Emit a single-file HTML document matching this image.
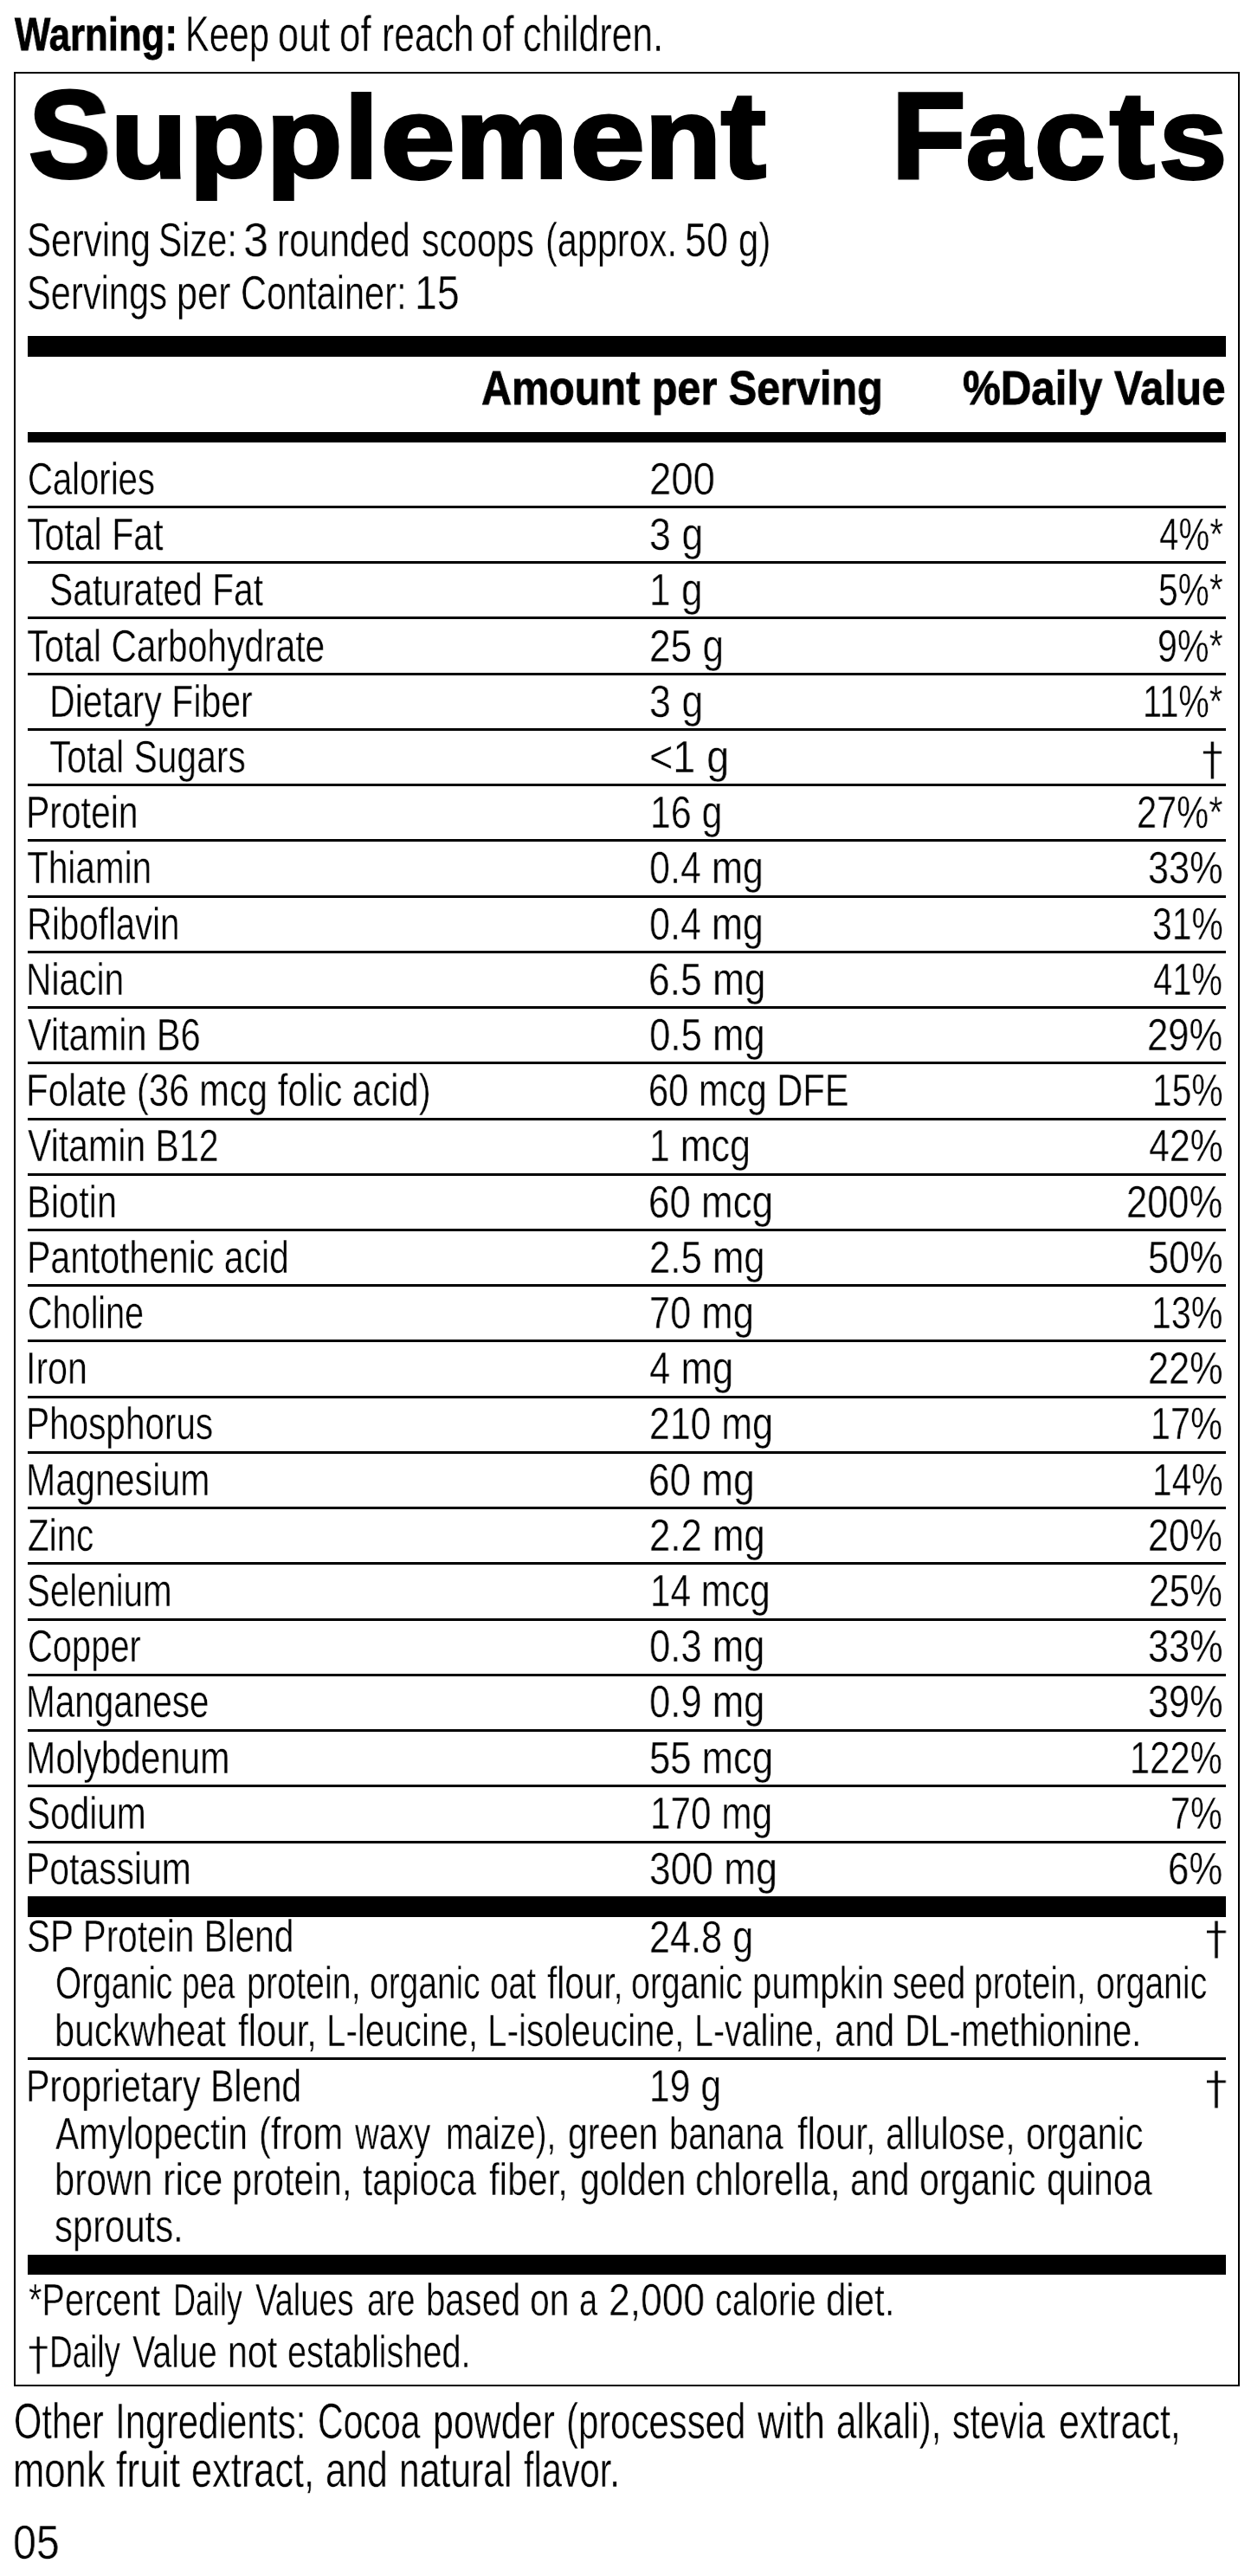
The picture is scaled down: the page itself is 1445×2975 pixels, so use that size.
<!DOCTYPE html>
<html><head><meta charset="utf-8"><title>Supplement Facts</title>
<style>
html,body{margin:0;padding:0;background:#fff}
body{width:1445px;height:2975px;position:relative;overflow:hidden;font-family:"Liberation Sans", Arial, sans-serif;color:#000}
.t{position:absolute;white-space:nowrap;transform-origin:0 0;will-change:transform}
.g{position:absolute;white-space:nowrap;font-size:0;line-height:0}
.c{display:inline-block;position:relative;vertical-align:top;white-space:pre;transform-origin:0 0;will-change:transform}
.r{position:absolute;background:#000}
</style></head><body>
<div style="position:absolute;left:16px;top:83px;width:1416px;height:2673px;border:2px solid #000;box-sizing:border-box"></div>
<div class="r" style="left:32px;top:387.5px;width:1384px;height:24px"></div>
<div class="r" style="left:32px;top:499px;width:1384px;height:12px"></div>
<div class="r" style="left:32px;top:584.0px;width:1384px;height:3px"></div>
<div class="r" style="left:32px;top:648.23px;width:1384px;height:3px"></div>
<div class="r" style="left:32px;top:712.46px;width:1384px;height:3px"></div>
<div class="r" style="left:32px;top:776.69px;width:1384px;height:3px"></div>
<div class="r" style="left:32px;top:840.92px;width:1384px;height:3px"></div>
<div class="r" style="left:32px;top:905.15px;width:1384px;height:3px"></div>
<div class="r" style="left:32px;top:969.38px;width:1384px;height:3px"></div>
<div class="r" style="left:32px;top:1033.61px;width:1384px;height:3px"></div>
<div class="r" style="left:32px;top:1097.84px;width:1384px;height:3px"></div>
<div class="r" style="left:32px;top:1162.07px;width:1384px;height:3px"></div>
<div class="r" style="left:32px;top:1226.3px;width:1384px;height:3px"></div>
<div class="r" style="left:32px;top:1290.53px;width:1384px;height:3px"></div>
<div class="r" style="left:32px;top:1354.76px;width:1384px;height:3px"></div>
<div class="r" style="left:32px;top:1418.99px;width:1384px;height:3px"></div>
<div class="r" style="left:32px;top:1483.22px;width:1384px;height:3px"></div>
<div class="r" style="left:32px;top:1547.45px;width:1384px;height:3px"></div>
<div class="r" style="left:32px;top:1611.68px;width:1384px;height:3px"></div>
<div class="r" style="left:32px;top:1675.91px;width:1384px;height:3px"></div>
<div class="r" style="left:32px;top:1740.14px;width:1384px;height:3px"></div>
<div class="r" style="left:32px;top:1804.37px;width:1384px;height:3px"></div>
<div class="r" style="left:32px;top:1868.6px;width:1384px;height:3px"></div>
<div class="r" style="left:32px;top:1932.83px;width:1384px;height:3px"></div>
<div class="r" style="left:32px;top:1997.06px;width:1384px;height:3px"></div>
<div class="r" style="left:32px;top:2061.29px;width:1384px;height:3px"></div>
<div class="r" style="left:32px;top:2125.52px;width:1384px;height:3px"></div>
<div class="r" style="left:32px;top:2190.3px;width:1384px;height:23.5px"></div>
<div class="r" style="left:32px;top:2376.4px;width:1384px;height:3px"></div>
<div class="r" style="left:32px;top:2603.6px;width:1384px;height:23.6px"></div>
<div class="g" style="left:16.80px;top:11.93px"><span class="c" style="width:197.53px;height:54.20px;top:0.27px;font-size:54.20px;line-height:54.20px;font-weight:bold;-webkit-text-stroke:0.80px #000;transform:scaleX(0.8075);">Warning: </span><span class="c" style="width:106.87px;height:56.47px;top:0.00px;font-size:56.47px;line-height:56.47px;-webkit-text-stroke:0.45px #fff;transform:scaleX(0.7347);">Keep </span><span class="c" style="width:70.68px;height:56.47px;top:0.00px;font-size:56.47px;line-height:56.47px;-webkit-text-stroke:0.45px #fff;transform:scaleX(0.7667);">out </span><span class="c" style="width:48.91px;height:56.47px;top:0.00px;font-size:56.47px;line-height:56.47px;-webkit-text-stroke:0.45px #fff;transform:scaleX(0.7750);">of </span><span class="c" style="width:115.53px;height:56.47px;top:0.00px;font-size:56.47px;line-height:56.47px;-webkit-text-stroke:0.45px #fff;transform:scaleX(0.7549);">reach </span><span class="c" style="width:47.71px;height:56.47px;top:0.00px;font-size:56.47px;line-height:56.47px;-webkit-text-stroke:0.45px #fff;transform:scaleX(0.7955);">of </span><span class="c" style="width:10.00px;height:56.47px;top:0.00px;font-size:56.47px;line-height:56.47px;-webkit-text-stroke:0.45px #fff;transform:scaleX(0.7595);">children.</span></div>
<div class="g" style="left:33.11px;top:85.45px"><span class="c" style="width:95.18px;height:142.96px;top:0.00px;font-size:142.96px;line-height:142.96px;font-weight:bold;-webkit-text-stroke:4.00px #000;transform:scaleX(0.9933);">S</span><span class="c" style="width:90.22px;height:132.59px;top:7.75px;font-size:132.59px;line-height:132.59px;font-weight:bold;-webkit-text-stroke:4.00px #000;transform:scaleX(1.0838);">u</span><span class="c" style="width:89.71px;height:128.27px;top:9.15px;font-size:128.27px;line-height:128.27px;font-weight:bold;-webkit-text-stroke:4.00px #000;transform:scaleX(1.1130);">p</span><span class="c" style="width:89.97px;height:128.27px;top:9.15px;font-size:128.27px;line-height:128.27px;font-weight:bold;-webkit-text-stroke:4.00px #000;transform:scaleX(1.1116);">p</span><span class="c" style="width:41.75px;height:133.84px;top:6.20px;font-size:133.84px;line-height:133.84px;font-weight:bold;-webkit-text-stroke:4.00px #000;transform:scaleX(1.0435);">l</span><span class="c" style="width:86.04px;height:133.09px;top:8.15px;font-size:133.09px;line-height:133.09px;font-weight:bold;-webkit-text-stroke:4.00px #000;transform:scaleX(1.1529);">e</span><span class="c" style="width:132.55px;height:132.41px;top:7.30px;font-size:132.41px;line-height:132.41px;font-weight:bold;-webkit-text-stroke:4.00px #000;transform:scaleX(1.1029);">m</span><span class="c" style="width:86.45px;height:133.09px;top:8.15px;font-size:133.09px;line-height:133.09px;font-weight:bold;-webkit-text-stroke:4.00px #000;transform:scaleX(1.1559);">e</span><span class="c" style="width:88.12px;height:132.41px;top:7.30px;font-size:132.41px;line-height:132.41px;font-weight:bold;-webkit-text-stroke:4.00px #000;transform:scaleX(1.0882);">n</span><span class="c" style="width:196.98px;height:141.52px;top:0.85px;font-size:141.52px;line-height:141.52px;font-weight:bold;-webkit-text-stroke:4.00px #000;transform:scaleX(1.0957);">t </span><span class="c" style="width:85.61px;height:141.30px;top:1.20px;font-size:141.30px;line-height:141.30px;font-weight:bold;-webkit-text-stroke:4.00px #000;transform:scaleX(0.9882);">F</span><span class="c" style="width:79.60px;height:133.27px;top:7.20px;font-size:133.27px;line-height:133.27px;font-weight:bold;-webkit-text-stroke:4.00px #000;transform:scaleX(1.0027);">a</span><span class="c" style="width:87.20px;height:133.27px;top:7.20px;font-size:133.27px;line-height:133.27px;font-weight:bold;-webkit-text-stroke:4.00px #000;transform:scaleX(1.1014);">c</span><span class="c" style="width:56.19px;height:141.36px;top:0.90px;font-size:141.36px;line-height:141.36px;font-weight:bold;-webkit-text-stroke:4.00px #000;transform:scaleX(1.0957);">t</span><span class="c" style="width:10.00px;height:133.09px;top:8.45px;font-size:133.09px;line-height:133.09px;font-weight:bold;-webkit-text-stroke:4.00px #000;transform:scaleX(1.0544);">s</span></div>
<div class="g" style="left:30.64px;top:248.83px"><span class="c" style="width:152.27px;height:56.03px;top:0.00px;font-size:56.03px;line-height:56.03px;-webkit-text-stroke:0.45px #fff;transform:scaleX(0.7530);">Serving </span><span class="c" style="width:98.28px;height:56.03px;top:0.00px;font-size:56.03px;line-height:56.03px;-webkit-text-stroke:0.45px #fff;transform:scaleX(0.7284);">Size: </span><span class="c" style="width:38.61px;height:56.03px;top:0.00px;font-size:56.03px;line-height:56.03px;-webkit-text-stroke:0.45px #fff;transform:scaleX(0.9360);">3 </span><span class="c" style="width:167.53px;height:56.03px;top:0.00px;font-size:56.03px;line-height:56.03px;-webkit-text-stroke:0.45px #fff;transform:scaleX(0.7485);">rounded </span><span class="c" style="width:143.11px;height:56.03px;top:0.00px;font-size:56.03px;line-height:56.03px;-webkit-text-stroke:0.45px #fff;transform:scaleX(0.7318);">scoops </span><span class="c" style="width:160.95px;height:56.03px;top:0.00px;font-size:56.03px;line-height:56.03px;-webkit-text-stroke:0.45px #fff;transform:scaleX(0.7393);">(approx. </span><span class="c" style="width:62.07px;height:56.03px;top:0.00px;font-size:56.03px;line-height:56.03px;-webkit-text-stroke:0.45px #fff;transform:scaleX(0.8018);">50 </span><span class="c" style="width:10.00px;height:56.03px;top:0.00px;font-size:56.03px;line-height:56.03px;-webkit-text-stroke:0.45px #fff;transform:scaleX(0.7465);">g)</span></div>
<div class="g" style="left:30.67px;top:310.43px"><span class="c" style="width:172.95px;height:56.03px;top:0.00px;font-size:56.03px;line-height:56.03px;-webkit-text-stroke:0.45px #fff;transform:scaleX(0.7432);">Servings </span><span class="c" style="width:74.56px;height:56.03px;top:0.00px;font-size:56.03px;line-height:56.03px;-webkit-text-stroke:0.45px #fff;transform:scaleX(0.7711);">per </span><span class="c" style="width:201.09px;height:56.03px;top:0.00px;font-size:56.03px;line-height:56.03px;-webkit-text-stroke:0.45px #fff;transform:scaleX(0.7408);">Container: </span><span class="c" style="width:10.00px;height:56.03px;top:0.00px;font-size:56.03px;line-height:56.03px;-webkit-text-stroke:0.45px #fff;transform:scaleX(0.8273);">15</span></div>
<div class="t" style="left:556.34px;top:420.30px;font-size:56.40px;line-height:56.40px;font-weight:bold;-webkit-text-stroke:0.80px #000;transform:scaleX(0.8606);">Amount per Serving</div>
<div class="t" style="left:1112.43px;top:420.30px;font-size:56.40px;line-height:56.40px;font-weight:bold;-webkit-text-stroke:0.80px #000;transform:scaleX(0.8725);">%Daily Value</div>
<div class="t" style="left:31.52px;top:527.02px;font-size:52.69px;line-height:52.69px;-webkit-text-stroke:0.45px #fff;transform:scaleX(0.7601);">Calories</div>
<div class="t" style="left:749.81px;top:527.02px;font-size:52.69px;line-height:52.69px;-webkit-text-stroke:0.45px #fff;transform:scaleX(0.8646);">200</div>
<div class="t" style="left:31.24px;top:591.23px;font-size:52.69px;line-height:52.69px;-webkit-text-stroke:0.45px #fff;transform:scaleX(0.7794);">Total Fat</div>
<div class="t" style="left:749.55px;top:591.23px;font-size:52.69px;line-height:52.69px;-webkit-text-stroke:0.45px #fff;transform:scaleX(0.8500);">3 g</div>
<div class="t" style="left:1339.07px;top:591.23px;font-size:52.69px;line-height:52.69px;-webkit-text-stroke:0.45px #fff;transform:scaleX(0.7645);">4%*</div>
<div class="t" style="left:56.88px;top:655.42px;font-size:52.69px;line-height:52.69px;-webkit-text-stroke:0.45px #fff;transform:scaleX(0.7740);">Saturated Fat</div>
<div class="t" style="left:750.24px;top:655.42px;font-size:52.69px;line-height:52.69px;-webkit-text-stroke:0.45px #fff;transform:scaleX(0.8400);">1 g</div>
<div class="t" style="left:1338.28px;top:655.42px;font-size:52.69px;line-height:52.69px;-webkit-text-stroke:0.45px #fff;transform:scaleX(0.7728);">5%*</div>
<div class="t" style="left:31.25px;top:719.62px;font-size:52.69px;line-height:52.69px;-webkit-text-stroke:0.45px #fff;transform:scaleX(0.7732);">Total Carbohydrate</div>
<div class="t" style="left:749.88px;top:719.62px;font-size:52.69px;line-height:52.69px;-webkit-text-stroke:0.45px #fff;transform:scaleX(0.8396);">25 g</div>
<div class="t" style="left:1337.35px;top:719.62px;font-size:52.69px;line-height:52.69px;-webkit-text-stroke:0.45px #fff;transform:scaleX(0.7826);">9%*</div>
<div class="t" style="left:56.71px;top:783.82px;font-size:52.69px;line-height:52.69px;-webkit-text-stroke:0.45px #fff;transform:scaleX(0.7783);">Dietary Fiber</div>
<div class="t" style="left:749.55px;top:783.82px;font-size:52.69px;line-height:52.69px;-webkit-text-stroke:0.45px #fff;transform:scaleX(0.8500);">3 g</div>
<div class="t" style="left:1320.28px;top:783.82px;font-size:52.69px;line-height:52.69px;-webkit-text-stroke:0.45px #fff;transform:scaleX(0.7556);">11%*</div>
<div class="t" style="left:57.45px;top:848.02px;font-size:52.69px;line-height:52.69px;-webkit-text-stroke:0.45px #fff;transform:scaleX(0.7744);">Total Sugars</div>
<div class="t" style="left:749.74px;top:848.02px;font-size:52.69px;line-height:52.69px;-webkit-text-stroke:0.45px #fff;transform:scaleX(0.8866);">&lt;1 g</div>
<div class="t" style="left:1388.37px;top:849.60px;font-size:53.85px;line-height:53.85px;font-family:'DejaVu Sans', 'Liberation Sans', sans-serif;-webkit-text-stroke:0.90px #fff;transform:scaleX(0.9174);">†</div>
<div class="t" style="left:29.52px;top:912.23px;font-size:52.69px;line-height:52.69px;-webkit-text-stroke:0.45px #fff;transform:scaleX(0.7753);">Protein</div>
<div class="t" style="left:750.75px;top:912.23px;font-size:52.69px;line-height:52.69px;-webkit-text-stroke:0.45px #fff;transform:scaleX(0.8126);">16 g</div>
<div class="t" style="left:1313.03px;top:912.23px;font-size:52.69px;line-height:52.69px;-webkit-text-stroke:0.45px #fff;transform:scaleX(0.7893);">27%*</div>
<div class="t" style="left:31.26px;top:976.43px;font-size:52.69px;line-height:52.69px;-webkit-text-stroke:0.45px #fff;transform:scaleX(0.7692);">Thiamin</div>
<div class="t" style="left:750.06px;top:976.43px;font-size:52.69px;line-height:52.69px;-webkit-text-stroke:0.45px #fff;transform:scaleX(0.8181);">0.4 mg</div>
<div class="t" style="left:1326.03px;top:976.43px;font-size:52.69px;line-height:52.69px;-webkit-text-stroke:0.45px #fff;transform:scaleX(0.8220);">33%</div>
<div class="t" style="left:30.59px;top:1040.62px;font-size:52.69px;line-height:52.69px;-webkit-text-stroke:0.45px #fff;transform:scaleX(0.7628);">Riboflavin</div>
<div class="t" style="left:750.06px;top:1040.62px;font-size:52.69px;line-height:52.69px;-webkit-text-stroke:0.45px #fff;transform:scaleX(0.8181);">0.4 mg</div>
<div class="t" style="left:1330.67px;top:1040.62px;font-size:52.69px;line-height:52.69px;-webkit-text-stroke:0.45px #fff;transform:scaleX(0.7770);">31%</div>
<div class="t" style="left:30.13px;top:1104.82px;font-size:52.69px;line-height:52.69px;-webkit-text-stroke:0.45px #fff;transform:scaleX(0.7732);">Niacin</div>
<div class="t" style="left:748.78px;top:1104.82px;font-size:52.69px;line-height:52.69px;-webkit-text-stroke:0.45px #fff;transform:scaleX(0.8409);">6.5 mg</div>
<div class="t" style="left:1332.48px;top:1104.82px;font-size:52.69px;line-height:52.69px;-webkit-text-stroke:0.45px #fff;transform:scaleX(0.7594);">41%</div>
<div class="t" style="left:32.41px;top:1169.02px;font-size:52.69px;line-height:52.69px;-webkit-text-stroke:0.45px #fff;transform:scaleX(0.7864);">Vitamin B6</div>
<div class="t" style="left:749.84px;top:1169.02px;font-size:52.69px;line-height:52.69px;-webkit-text-stroke:0.45px #fff;transform:scaleX(0.8297);">0.5 mg</div>
<div class="t" style="left:1325.42px;top:1169.02px;font-size:52.69px;line-height:52.69px;-webkit-text-stroke:0.45px #fff;transform:scaleX(0.8280);">29%</div>
<div class="t" style="left:30.03px;top:1233.22px;font-size:52.69px;line-height:52.69px;-webkit-text-stroke:0.45px #fff;transform:scaleX(0.7945);">Folate (36 mcg folic acid)</div>
<div class="t" style="left:749.03px;top:1233.22px;font-size:52.69px;line-height:52.69px;-webkit-text-stroke:0.45px #fff;transform:scaleX(0.7906);">60 mcg DFE</div>
<div class="t" style="left:1330.90px;top:1233.22px;font-size:52.69px;line-height:52.69px;-webkit-text-stroke:0.45px #fff;transform:scaleX(0.7747);">15%</div>
<div class="t" style="left:32.42px;top:1297.42px;font-size:52.69px;line-height:52.69px;-webkit-text-stroke:0.45px #fff;transform:scaleX(0.7792);">Vitamin B12</div>
<div class="t" style="left:750.24px;top:1297.42px;font-size:52.69px;line-height:52.69px;-webkit-text-stroke:0.45px #fff;transform:scaleX(0.8147);">1 mcg</div>
<div class="t" style="left:1326.87px;top:1297.42px;font-size:52.69px;line-height:52.69px;-webkit-text-stroke:0.45px #fff;transform:scaleX(0.8139);">42%</div>
<div class="t" style="left:30.85px;top:1361.62px;font-size:52.69px;line-height:52.69px;-webkit-text-stroke:0.45px #fff;transform:scaleX(0.7894);">Biotin</div>
<div class="t" style="left:749.00px;top:1361.62px;font-size:52.69px;line-height:52.69px;-webkit-text-stroke:0.45px #fff;transform:scaleX(0.8331);">60 mcg</div>
<div class="t" style="left:1300.72px;top:1361.62px;font-size:52.69px;line-height:52.69px;-webkit-text-stroke:0.45px #fff;transform:scaleX(0.8254);">200%</div>
<div class="t" style="left:30.91px;top:1425.82px;font-size:52.69px;line-height:52.69px;-webkit-text-stroke:0.45px #fff;transform:scaleX(0.7774);">Pantothenic acid</div>
<div class="t" style="left:749.91px;top:1425.82px;font-size:52.69px;line-height:52.69px;-webkit-text-stroke:0.45px #fff;transform:scaleX(0.8292);">2.5 mg</div>
<div class="t" style="left:1325.83px;top:1425.82px;font-size:52.69px;line-height:52.69px;-webkit-text-stroke:0.45px #fff;transform:scaleX(0.8220);">50%</div>
<div class="t" style="left:31.75px;top:1490.02px;font-size:52.69px;line-height:52.69px;-webkit-text-stroke:0.45px #fff;transform:scaleX(0.7509);">Choline</div>
<div class="t" style="left:750.03px;top:1490.02px;font-size:52.69px;line-height:52.69px;-webkit-text-stroke:0.45px #fff;transform:scaleX(0.8243);">70 mg</div>
<div class="t" style="left:1329.97px;top:1490.02px;font-size:52.69px;line-height:52.69px;-webkit-text-stroke:0.45px #fff;transform:scaleX(0.7818);">13%</div>
<div class="t" style="left:30.10px;top:1554.22px;font-size:52.69px;line-height:52.69px;-webkit-text-stroke:0.45px #fff;transform:scaleX(0.7793);">Iron</div>
<div class="t" style="left:749.84px;top:1554.22px;font-size:52.69px;line-height:52.69px;-webkit-text-stroke:0.45px #fff;transform:scaleX(0.8297);">4 mg</div>
<div class="t" style="left:1325.83px;top:1554.22px;font-size:52.69px;line-height:52.69px;-webkit-text-stroke:0.45px #fff;transform:scaleX(0.8220);">22%</div>
<div class="t" style="left:30.16px;top:1618.42px;font-size:52.69px;line-height:52.69px;-webkit-text-stroke:0.45px #fff;transform:scaleX(0.7686);">Phosphorus</div>
<div class="t" style="left:749.96px;top:1618.42px;font-size:52.69px;line-height:52.69px;-webkit-text-stroke:0.45px #fff;transform:scaleX(0.8130);">210 mg</div>
<div class="t" style="left:1329.35px;top:1618.42px;font-size:52.69px;line-height:52.69px;-webkit-text-stroke:0.45px #fff;transform:scaleX(0.7879);">17%</div>
<div class="t" style="left:30.10px;top:1682.62px;font-size:52.69px;line-height:52.69px;-webkit-text-stroke:0.45px #fff;transform:scaleX(0.7795);">Magnesium</div>
<div class="t" style="left:748.99px;top:1682.62px;font-size:52.69px;line-height:52.69px;-webkit-text-stroke:0.45px #fff;transform:scaleX(0.8364);">60 mg</div>
<div class="t" style="left:1330.70px;top:1682.62px;font-size:52.69px;line-height:52.69px;-webkit-text-stroke:0.45px #fff;transform:scaleX(0.7747);">14%</div>
<div class="t" style="left:31.67px;top:1746.82px;font-size:52.69px;line-height:52.69px;-webkit-text-stroke:0.45px #fff;transform:scaleX(0.7656);">Zinc</div>
<div class="t" style="left:750.01px;top:1746.82px;font-size:52.69px;line-height:52.69px;-webkit-text-stroke:0.45px #fff;transform:scaleX(0.8299);">2.2 mg</div>
<div class="t" style="left:1326.45px;top:1746.82px;font-size:52.69px;line-height:52.69px;-webkit-text-stroke:0.45px #fff;transform:scaleX(0.8160);">20%</div>
<div class="t" style="left:31.21px;top:1811.02px;font-size:52.69px;line-height:52.69px;-webkit-text-stroke:0.45px #fff;transform:scaleX(0.7624);">Selenium</div>
<div class="t" style="left:750.89px;top:1811.02px;font-size:52.69px;line-height:52.69px;-webkit-text-stroke:0.45px #fff;transform:scaleX(0.8018);">14 mcg</div>
<div class="t" style="left:1327.48px;top:1811.02px;font-size:52.69px;line-height:52.69px;-webkit-text-stroke:0.45px #fff;transform:scaleX(0.8060);">25%</div>
<div class="t" style="left:31.73px;top:1875.22px;font-size:52.69px;line-height:52.69px;-webkit-text-stroke:0.45px #fff;transform:scaleX(0.7568);">Copper</div>
<div class="t" style="left:749.85px;top:1875.22px;font-size:52.69px;line-height:52.69px;-webkit-text-stroke:0.45px #fff;transform:scaleX(0.8271);">0.3 mg</div>
<div class="t" style="left:1325.83px;top:1875.22px;font-size:52.69px;line-height:52.69px;-webkit-text-stroke:0.45px #fff;transform:scaleX(0.8220);">33%</div>
<div class="t" style="left:30.16px;top:1939.42px;font-size:52.69px;line-height:52.69px;-webkit-text-stroke:0.45px #fff;transform:scaleX(0.7679);">Manganese</div>
<div class="t" style="left:749.85px;top:1939.42px;font-size:52.69px;line-height:52.69px;-webkit-text-stroke:0.45px #fff;transform:scaleX(0.8271);">0.9 mg</div>
<div class="t" style="left:1325.83px;top:1939.42px;font-size:52.69px;line-height:52.69px;-webkit-text-stroke:0.45px #fff;transform:scaleX(0.8220);">39%</div>
<div class="t" style="left:30.10px;top:2003.62px;font-size:52.69px;line-height:52.69px;-webkit-text-stroke:0.45px #fff;transform:scaleX(0.7802);">Molybdenum</div>
<div class="t" style="left:749.92px;top:2003.62px;font-size:52.69px;line-height:52.69px;-webkit-text-stroke:0.45px #fff;transform:scaleX(0.8277);">55 mcg</div>
<div class="t" style="left:1305.13px;top:2003.62px;font-size:52.69px;line-height:52.69px;-webkit-text-stroke:0.45px #fff;transform:scaleX(0.7922);">122%</div>
<div class="t" style="left:31.19px;top:2067.83px;font-size:52.69px;line-height:52.69px;-webkit-text-stroke:0.45px #fff;transform:scaleX(0.7698);">Sodium</div>
<div class="t" style="left:750.89px;top:2067.83px;font-size:52.69px;line-height:52.69px;-webkit-text-stroke:0.45px #fff;transform:scaleX(0.8030);">170 mg</div>
<div class="t" style="left:1352.34px;top:2067.83px;font-size:52.69px;line-height:52.69px;-webkit-text-stroke:0.45px #fff;transform:scaleX(0.7859);">7%</div>
<div class="t" style="left:30.12px;top:2132.03px;font-size:52.69px;line-height:52.69px;-webkit-text-stroke:0.45px #fff;transform:scaleX(0.7755);">Potassium</div>
<div class="t" style="left:749.88px;top:2132.03px;font-size:52.69px;line-height:52.69px;-webkit-text-stroke:0.45px #fff;transform:scaleX(0.8408);">300 mg</div>
<div class="t" style="left:1349.01px;top:2132.03px;font-size:52.69px;line-height:52.69px;-webkit-text-stroke:0.45px #fff;transform:scaleX(0.8310);">6%</div>
<div class="t" style="left:30.84px;top:2211.42px;font-size:51.53px;line-height:51.53px;-webkit-text-stroke:0.45px #fff;transform:scaleX(0.7878);">SP Protein Blend</div>
<div class="t" style="left:749.94px;top:2210.82px;font-size:52.69px;line-height:52.69px;-webkit-text-stroke:0.45px #fff;transform:scaleX(0.8200);">24.8 g</div>
<div class="t" style="left:1391.55px;top:2212.25px;font-size:52.99px;line-height:52.99px;font-family:'DejaVu Sans', 'Liberation Sans', sans-serif;-webkit-text-stroke:0.90px #fff;transform:scaleX(0.9773);">†</div>
<div class="g" style="left:63.55px;top:2265.22px"><span class="c" style="width:146.89px;height:51.53px;top:0.00px;font-size:51.53px;line-height:51.53px;-webkit-text-stroke:0.45px #fff;transform:scaleX(0.7503);">Organic </span><span class="c" style="width:74.60px;height:51.53px;top:0.00px;font-size:51.53px;line-height:51.53px;-webkit-text-stroke:0.45px #fff;transform:scaleX(0.7146);">pea </span><span class="c" style="width:141.70px;height:51.53px;top:0.00px;font-size:51.53px;line-height:51.53px;-webkit-text-stroke:0.45px #fff;transform:scaleX(0.7656);">protein, </span><span class="c" style="width:139.34px;height:51.53px;top:0.00px;font-size:51.53px;line-height:51.53px;-webkit-text-stroke:0.45px #fff;transform:scaleX(0.7555);">organic </span><span class="c" style="width:66.24px;height:51.53px;top:0.00px;font-size:51.53px;line-height:51.53px;-webkit-text-stroke:0.45px #fff;transform:scaleX(0.7412);">oat </span><span class="c" style="width:97.20px;height:51.53px;top:0.00px;font-size:51.53px;line-height:51.53px;-webkit-text-stroke:0.45px #fff;transform:scaleX(0.7868);">flour, </span><span class="c" style="width:139.16px;height:51.53px;top:0.00px;font-size:51.53px;line-height:51.53px;-webkit-text-stroke:0.45px #fff;transform:scaleX(0.7616);">organic </span><span class="c" style="width:162.02px;height:51.53px;top:0.00px;font-size:51.53px;line-height:51.53px;-webkit-text-stroke:0.45px #fff;transform:scaleX(0.7807);">pumpkin </span><span class="c" style="width:94.80px;height:51.53px;top:0.00px;font-size:51.53px;line-height:51.53px;-webkit-text-stroke:0.45px #fff;transform:scaleX(0.7538);">seed </span><span class="c" style="width:140.73px;height:51.53px;top:0.00px;font-size:51.53px;line-height:51.53px;-webkit-text-stroke:0.45px #fff;transform:scaleX(0.7521);">protein, </span><span class="c" style="width:10.00px;height:51.53px;top:0.00px;font-size:51.53px;line-height:51.53px;-webkit-text-stroke:0.45px #fff;transform:scaleX(0.7585);">organic</span></div>
<div class="g" style="left:63.29px;top:2319.53px"><span class="c" style="width:212.10px;height:51.53px;top:0.00px;font-size:51.53px;line-height:51.53px;-webkit-text-stroke:0.45px #fff;transform:scaleX(0.8029);">buckwheat </span><span class="c" style="width:101.19px;height:51.53px;top:0.00px;font-size:51.53px;line-height:51.53px;-webkit-text-stroke:0.45px #fff;transform:scaleX(0.8151);">flour, </span><span class="c" style="width:186.79px;height:51.53px;top:0.00px;font-size:51.53px;line-height:51.53px;-webkit-text-stroke:0.45px #fff;transform:scaleX(0.7840);">L-leucine, </span><span class="c" style="width:238.81px;height:51.53px;top:0.00px;font-size:51.53px;line-height:51.53px;-webkit-text-stroke:0.45px #fff;transform:scaleX(0.7864);">L-isoleucine, </span><span class="c" style="width:161.80px;height:51.53px;top:0.00px;font-size:51.53px;line-height:51.53px;-webkit-text-stroke:0.45px #fff;transform:scaleX(0.7638);">L-valine, </span><span class="c" style="width:81.01px;height:51.53px;top:0.00px;font-size:51.53px;line-height:51.53px;-webkit-text-stroke:0.45px #fff;transform:scaleX(0.8063);">and </span><span class="c" style="width:10.00px;height:51.53px;top:0.00px;font-size:51.53px;line-height:51.53px;-webkit-text-stroke:0.45px #fff;transform:scaleX(0.7826);">DL-methionine.</span></div>
<div class="t" style="left:30.40px;top:2384.12px;font-size:51.53px;line-height:51.53px;-webkit-text-stroke:0.45px #fff;transform:scaleX(0.7997);">Proprietary Blend</div>
<div class="t" style="left:750.46px;top:2382.92px;font-size:52.69px;line-height:52.69px;-webkit-text-stroke:0.45px #fff;transform:scaleX(0.8105);">19 g</div>
<div class="t" style="left:1391.55px;top:2385.85px;font-size:52.75px;line-height:52.75px;font-family:'DejaVu Sans', 'Liberation Sans', sans-serif;-webkit-text-stroke:0.90px #fff;transform:scaleX(0.9773);">†</div>
<div class="g" style="left:64.31px;top:2438.53px"><span class="c" style="width:234.96px;height:51.53px;top:0.00px;font-size:51.53px;line-height:51.53px;-webkit-text-stroke:0.45px #fff;transform:scaleX(0.7909);">Amylopectin </span><span class="c" style="width:111.09px;height:51.53px;top:0.00px;font-size:51.53px;line-height:51.53px;-webkit-text-stroke:0.45px #fff;transform:scaleX(0.8089);">(from </span><span class="c" style="width:104.43px;height:51.53px;top:0.00px;font-size:51.53px;line-height:51.53px;-webkit-text-stroke:0.45px #fff;transform:scaleX(0.7443);">waxy </span><span class="c" style="width:140.94px;height:51.53px;top:0.00px;font-size:51.53px;line-height:51.53px;-webkit-text-stroke:0.45px #fff;transform:scaleX(0.7531);">maize), </span><span class="c" style="width:116.91px;height:51.53px;top:0.00px;font-size:51.53px;line-height:51.53px;-webkit-text-stroke:0.45px #fff;transform:scaleX(0.7912);">green </span><span class="c" style="width:148.56px;height:51.53px;top:0.00px;font-size:51.53px;line-height:51.53px;-webkit-text-stroke:0.45px #fff;transform:scaleX(0.7667);">banana </span><span class="c" style="width:102.34px;height:51.53px;top:0.00px;font-size:51.53px;line-height:51.53px;-webkit-text-stroke:0.45px #fff;transform:scaleX(0.8104);">flour, </span><span class="c" style="width:161.07px;height:51.53px;top:0.00px;font-size:51.53px;line-height:51.53px;-webkit-text-stroke:0.45px #fff;transform:scaleX(0.7912);">allulose, </span><span class="c" style="width:10.00px;height:51.53px;top:0.00px;font-size:51.53px;line-height:51.53px;-webkit-text-stroke:0.45px #fff;transform:scaleX(0.8012);">organic</span></div>
<div class="g" style="left:63.28px;top:2492.22px"><span class="c" style="width:124.38px;height:51.53px;top:0.00px;font-size:51.53px;line-height:51.53px;-webkit-text-stroke:0.45px #fff;transform:scaleX(0.8060);">brown </span><span class="c" style="width:79.93px;height:51.53px;top:0.00px;font-size:51.53px;line-height:51.53px;-webkit-text-stroke:0.45px #fff;transform:scaleX(0.8368);">rice </span><span class="c" style="width:151.73px;height:51.53px;top:0.00px;font-size:51.53px;line-height:51.53px;-webkit-text-stroke:0.45px #fff;transform:scaleX(0.8055);">protein, </span><span class="c" style="width:146.17px;height:51.53px;top:0.00px;font-size:51.53px;line-height:51.53px;-webkit-text-stroke:0.45px #fff;transform:scaleX(0.7879);">tapioca </span><span class="c" style="width:104.54px;height:51.53px;top:0.00px;font-size:51.53px;line-height:51.53px;-webkit-text-stroke:0.45px #fff;transform:scaleX(0.8151);">fiber, </span><span class="c" style="width:133.03px;height:51.53px;top:0.00px;font-size:51.53px;line-height:51.53px;-webkit-text-stroke:0.45px #fff;transform:scaleX(0.7905);">golden </span><span class="c" style="width:179.05px;height:51.53px;top:0.00px;font-size:51.53px;line-height:51.53px;-webkit-text-stroke:0.45px #fff;transform:scaleX(0.8131);">chlorella, </span><span class="c" style="width:80.21px;height:51.53px;top:0.00px;font-size:51.53px;line-height:51.53px;-webkit-text-stroke:0.45px #fff;transform:scaleX(0.7975);">and </span><span class="c" style="width:146.52px;height:51.53px;top:0.00px;font-size:51.53px;line-height:51.53px;-webkit-text-stroke:0.45px #fff;transform:scaleX(0.7945);">organic </span><span class="c" style="width:10.00px;height:51.53px;top:0.00px;font-size:51.53px;line-height:51.53px;-webkit-text-stroke:0.45px #fff;transform:scaleX(0.7881);">quinoa</span></div>
<div class="t" style="left:63.08px;top:2546.42px;font-size:51.53px;line-height:51.53px;-webkit-text-stroke:0.45px #fff;transform:scaleX(0.8114);">sprouts.</div>
<div class="g" style="left:32.55px;top:2630.42px"><span class="c" style="width:167.74px;height:52.69px;top:0.00px;font-size:52.69px;line-height:52.69px;-webkit-text-stroke:0.45px #fff;transform:scaleX(0.7525);">*Percent </span><span class="c" style="width:94.99px;height:52.69px;top:0.00px;font-size:52.69px;line-height:52.69px;-webkit-text-stroke:0.45px #fff;transform:scaleX(0.6820);">Daily </span><span class="c" style="width:128.63px;height:52.69px;top:0.00px;font-size:52.69px;line-height:52.69px;-webkit-text-stroke:0.45px #fff;transform:scaleX(0.7234);">Values </span><span class="c" style="width:68.25px;height:52.69px;top:0.00px;font-size:52.69px;line-height:52.69px;-webkit-text-stroke:0.45px #fff;transform:scaleX(0.7300);">are </span><span class="c" style="width:119.82px;height:52.69px;top:0.00px;font-size:52.69px;line-height:52.69px;-webkit-text-stroke:0.45px #fff;transform:scaleX(0.7603);">based </span><span class="c" style="width:57.46px;height:52.69px;top:0.00px;font-size:52.69px;line-height:52.69px;-webkit-text-stroke:0.45px #fff;transform:scaleX(0.7750);">on </span><span class="c" style="width:34.04px;height:52.69px;top:0.00px;font-size:52.69px;line-height:52.69px;-webkit-text-stroke:0.45px #fff;transform:scaleX(0.7231);">a </span><span class="c" style="width:122.57px;height:52.69px;top:0.00px;font-size:52.69px;line-height:52.69px;-webkit-text-stroke:0.45px #fff;transform:scaleX(0.8421);">2,000 </span><span class="c" style="width:128.26px;height:52.69px;top:0.00px;font-size:52.69px;line-height:52.69px;-webkit-text-stroke:0.45px #fff;transform:scaleX(0.7520);">calorie </span><span class="c" style="width:10.00px;height:52.69px;top:0.00px;font-size:52.69px;line-height:52.69px;-webkit-text-stroke:0.45px #fff;transform:scaleX(0.7978);">diet.</span></div>
<div class="g" style="left:31.98px;top:2690.22px"><span class="c" style="width:24.82px;height:53.36px;top:1.47px;font-size:53.36px;line-height:53.36px;font-family:'DejaVu Sans', 'Liberation Sans', sans-serif;-webkit-text-stroke:0.90px #fff;transform:scaleX(0.9087);">†</span><span class="c" style="width:96.25px;height:52.69px;top:0.00px;font-size:52.69px;line-height:52.69px;-webkit-text-stroke:0.45px #fff;transform:scaleX(0.7000);">Daily </span><span class="c" style="width:109.92px;height:52.69px;top:0.00px;font-size:52.69px;line-height:52.69px;-webkit-text-stroke:0.45px #fff;transform:scaleX(0.7465);">Value </span><span class="c" style="width:69.37px;height:52.69px;top:0.00px;font-size:52.69px;line-height:52.69px;-webkit-text-stroke:0.45px #fff;transform:scaleX(0.7824);">not </span><span class="c" style="width:10.00px;height:52.69px;top:0.00px;font-size:52.69px;line-height:52.69px;-webkit-text-stroke:0.45px #fff;transform:scaleX(0.7520);">established.</span></div>
<div class="g" style="left:16.20px;top:2769.22px"><span class="c" style="width:117.14px;height:56.76px;top:0.00px;font-size:56.76px;line-height:56.76px;-webkit-text-stroke:0.45px #fff;transform:scaleX(0.7319);">Other </span><span class="c" style="width:233.29px;height:56.76px;top:0.00px;font-size:56.76px;line-height:56.76px;-webkit-text-stroke:0.45px #fff;transform:scaleX(0.7432);">Ingredients: </span><span class="c" style="width:133.34px;height:56.76px;top:0.00px;font-size:56.76px;line-height:56.76px;-webkit-text-stroke:0.45px #fff;transform:scaleX(0.7217);">Cocoa </span><span class="c" style="width:154.28px;height:56.76px;top:0.00px;font-size:56.76px;line-height:56.76px;-webkit-text-stroke:0.45px #fff;transform:scaleX(0.7569);">powder </span><span class="c" style="width:221.18px;height:56.76px;top:0.00px;font-size:56.76px;line-height:56.76px;-webkit-text-stroke:0.45px #fff;transform:scaleX(0.7381);">(processed </span><span class="c" style="width:90.35px;height:56.76px;top:0.00px;font-size:56.76px;line-height:56.76px;-webkit-text-stroke:0.45px #fff;transform:scaleX(0.7740);">with </span><span class="c" style="width:134.08px;height:56.76px;top:0.00px;font-size:56.76px;line-height:56.76px;-webkit-text-stroke:0.45px #fff;transform:scaleX(0.7397);">alkali), </span><span class="c" style="width:122.77px;height:56.76px;top:0.00px;font-size:56.76px;line-height:56.76px;-webkit-text-stroke:0.45px #fff;transform:scaleX(0.7205);">stevia </span><span class="c" style="width:10.00px;height:56.76px;top:0.00px;font-size:56.76px;line-height:56.76px;-webkit-text-stroke:0.45px #fff;transform:scaleX(0.7573);">extract,</span></div>
<div class="g" style="left:15.33px;top:2825.32px"><span class="c" style="width:118.59px;height:56.76px;top:0.00px;font-size:56.76px;line-height:56.76px;-webkit-text-stroke:0.45px #fff;transform:scaleX(0.7679);">monk </span><span class="c" style="width:86.79px;height:56.76px;top:0.00px;font-size:56.76px;line-height:56.76px;-webkit-text-stroke:0.45px #fff;transform:scaleX(0.7839);">fruit </span><span class="c" style="width:155.41px;height:56.76px;top:0.00px;font-size:56.76px;line-height:56.76px;-webkit-text-stroke:0.45px #fff;transform:scaleX(0.7640);">extract, </span><span class="c" style="width:84.87px;height:56.76px;top:0.00px;font-size:56.76px;line-height:56.76px;-webkit-text-stroke:0.45px #fff;transform:scaleX(0.7609);">and </span><span class="c" style="width:143.68px;height:56.76px;top:0.00px;font-size:56.76px;line-height:56.76px;-webkit-text-stroke:0.45px #fff;transform:scaleX(0.7521);">natural </span><span class="c" style="width:10.00px;height:56.76px;top:0.00px;font-size:56.76px;line-height:56.76px;-webkit-text-stroke:0.45px #fff;transform:scaleX(0.7317);">flavor.</span></div>
<div class="t" style="left:14.98px;top:2908.82px;font-size:55.16px;line-height:55.16px;-webkit-text-stroke:0.45px #fff;transform:scaleX(0.8732);">05</div>
</body></html>
